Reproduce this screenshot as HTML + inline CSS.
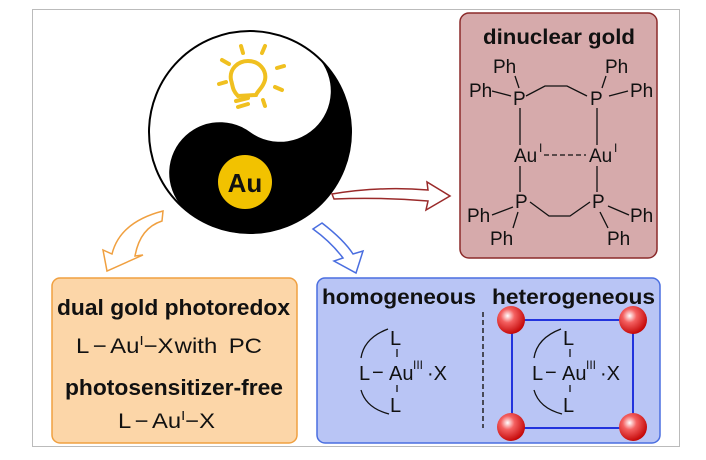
<!DOCTYPE html>
<html><head><meta charset="utf-8"><style>
html,body{margin:0;padding:0;background:#fff;}
svg{display:block;}
text{font-family:"Liberation Sans",Arial,sans-serif;fill:#111;}
.b{font-weight:bold;}
</style></head><body>
<svg width="706" height="460" viewBox="0 0 706 460" xmlns="http://www.w3.org/2000/svg">
<rect x="32.5" y="9.5" width="647" height="437" fill="#fff" stroke="#bbb" stroke-width="1"/>

<circle cx="250" cy="132" r="101" fill="#fff" stroke="#000" stroke-width="2"/>
<path d="M310,50 A101,101 0 0 1 190,214 A50.5,50.5 0 0 1 250,132 A50.5,50.5 0 0 0 310,50 Z" fill="#000"/>
<circle cx="245" cy="182" r="27" fill="#f2c200"/>
<text x="245" y="192" font-size="26" text-anchor="middle" class="b">Au</text>
<g stroke="#f0c020" stroke-width="4" fill="none" stroke-linecap="round">
<path d="M238,96 C232,90 233,86 231,80 C229,69 238,61 248,61 C259,61 267,70 265,80 C263,88 258,90 256,95 Z"/>
<line x1="236" y1="101" x2="248" y2="98"/><line x1="238" y1="107" x2="248" y2="104"/>
<line x1="241" y1="46" x2="243" y2="53"/><line x1="265" y1="46" x2="262" y2="53"/>
<line x1="222" y1="60" x2="229" y2="64"/><line x1="284" y1="66" x2="277" y2="68"/>
<line x1="219" y1="84" x2="226" y2="82"/><line x1="282" y1="90" x2="275" y2="87"/>
<line x1="263" y1="100" x2="265" y2="106"/>
</g>

<path d="M332,194 Q380,186 428,190 L427,182 L450,196 L426,210 L428,201 Q380,197 334,199 Z" fill="#fff" stroke="#9a2a2a" stroke-width="1.5"/>
<path d="M163,211 L162,221 Q140,228 135,256 L143,255 L107,271 L103,250 L112,254 Q120,222 163,211 Z" fill="#fff" stroke="#f0a040" stroke-width="1.5"/>
<path d="M313,229 L322,223 Q344,240 353,254 L363,251 L356,273 L334,261 L343,258 Q331,242 313,229 Z" fill="#fff" stroke="#4a6ee0" stroke-width="1.5"/>

<rect x="460" y="13" width="197" height="245" rx="9" fill="#d6aaab" stroke="#8b2a2a" stroke-width="1.5"/>
<text x="483" y="44" font-size="21" class="b" textLength="152" lengthAdjust="spacingAndGlyphs">dinuclear gold</text>
<g font-size="19">
<text x="493" y="73">Ph</text><text x="605" y="73">Ph</text>
<text x="469" y="97">Ph</text><text x="630" y="97">Ph</text>
<text x="513" y="105">P</text><text x="590" y="105">P</text>
<text x="514" y="162">Au</text><text x="589" y="162">Au</text>
<text x="539" y="152" font-size="12">I</text><text x="614" y="152" font-size="12">I</text>
<text x="515" y="208">P</text><text x="592" y="208">P</text>
<text x="467" y="222">Ph</text><text x="630" y="222">Ph</text>
<text x="490" y="245">Ph</text><text x="607" y="245">Ph</text>
</g>
<g stroke="#111" stroke-width="1.3" fill="none">
<line x1="515" y1="76" x2="519" y2="88"/><line x1="602" y1="88" x2="606" y2="76"/>
<line x1="492" y1="91" x2="511" y2="96"/><line x1="609" y1="96" x2="628" y2="91"/>
<polyline points="526,96 545,86 567,86 587,96"/>
<line x1="520" y1="108" x2="520" y2="145"/><line x1="597" y1="108" x2="597" y2="145"/>
<line x1="544" y1="155" x2="586" y2="155" stroke-dasharray="5,3"/>
<line x1="520" y1="166" x2="520" y2="192"/><line x1="597" y1="166" x2="597" y2="192"/>
<line x1="492" y1="215" x2="513" y2="207"/><line x1="608" y1="206" x2="629" y2="215"/>
<polyline points="530,202 549,216 570,216 590,202"/>
<line x1="518" y1="212" x2="513" y2="228"/><line x1="600" y1="212" x2="608" y2="228"/>
</g>

<rect x="52" y="278" width="245" height="165" rx="8" fill="#fcd6a8" stroke="#f0a040" stroke-width="1.5"/>
<text x="57" y="315" font-size="22" class="b" textLength="233" lengthAdjust="spacingAndGlyphs">dual gold photoredox</text>
<text x="76" y="353" font-size="21" textLength="186" lengthAdjust="spacingAndGlyphs">L<tspan dx="3">−</tspan><tspan dx="3">Au</tspan><tspan font-size="13" dy="-8">I</tspan><tspan dy="8">−</tspan>X<tspan dx="1">with</tspan><tspan dx="10">PC</tspan></text>
<text x="65" y="395" font-size="22" class="b" textLength="218" lengthAdjust="spacingAndGlyphs">photosensitizer-free</text>
<text x="118" y="428" font-size="21" textLength="97" lengthAdjust="spacingAndGlyphs">L<tspan dx="3">−</tspan><tspan dx="3">Au</tspan><tspan font-size="13" dy="-8">I</tspan><tspan dy="8">−</tspan>X</text>

<rect x="317" y="278" width="343" height="165" rx="8" fill="#b9c5f5" stroke="#4a6ee0" stroke-width="1.5"/>
<text x="322" y="304" font-size="21" class="b" textLength="154" lengthAdjust="spacingAndGlyphs">homogeneous</text>
<text x="492" y="304" font-size="21" class="b" textLength="163" lengthAdjust="spacingAndGlyphs">heterogeneous</text>
<line x1="483" y1="312" x2="483" y2="428" stroke="#222" stroke-width="1.5" stroke-dasharray="5,3"/>
<g font-size="20">
<text x="390" y="345">L</text><text x="390" y="412">L</text>
<text x="359" y="380">L</text><text x="372" y="379">−</text><text x="389" y="380">Au</text><text x="413" y="369" font-size="12">III</text><text x="427" y="380">·X</text>
<text x="563" y="345">L</text><text x="563" y="412">L</text>
<text x="532" y="380">L</text><text x="545" y="379">−</text><text x="562" y="380">Au</text><text x="586" y="369" font-size="12">III</text><text x="600" y="380">·X</text>
</g>
<g stroke="#111" stroke-width="1.3" fill="none">
<line x1="397" y1="349" x2="397" y2="357"/><line x1="397" y1="385" x2="397" y2="392"/>
<path d="M388,329 Q364,338 361,358"/><path d="M361,390 Q366,408 389,414"/>
<line x1="570" y1="349" x2="570" y2="357"/><line x1="570" y1="385" x2="570" y2="392"/>
<path d="M561,329 Q537,338 534,358"/><path d="M534,390 Q539,408 562,414"/>
</g>
<rect x="512" y="320" width="121" height="108" fill="none" stroke="#2233dd" stroke-width="2"/>
<defs><radialGradient id="rb" cx="0.38" cy="0.35" r="0.7"><stop offset="0" stop-color="#fff"/><stop offset="0.35" stop-color="#f46060"/><stop offset="1" stop-color="#c00000"/></radialGradient></defs>
<circle cx="511" cy="320" r="14" fill="url(#rb)"/><circle cx="633" cy="320" r="14" fill="url(#rb)"/>
<circle cx="511" cy="427" r="14" fill="url(#rb)"/><circle cx="633" cy="427" r="14" fill="url(#rb)"/>
</svg>
</body></html>
